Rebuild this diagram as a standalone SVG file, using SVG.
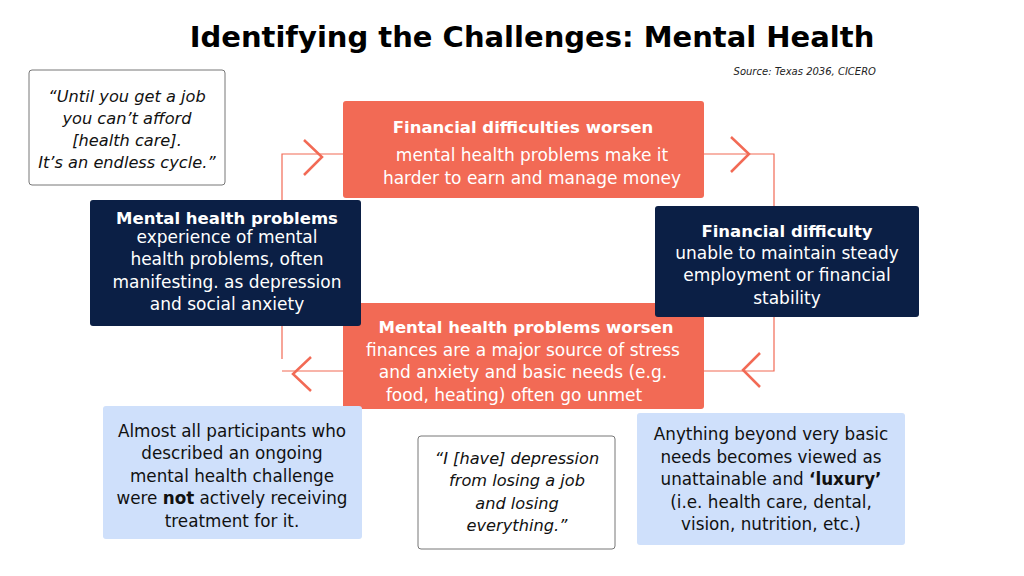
<svg xmlns="http://www.w3.org/2000/svg" width="1024" height="576" viewBox="0 0 1024 576">
<style>
text{font-family:"DejaVu Sans","Open Sans",sans-serif;text-anchor:middle}
.t{font-size:17px;fill:#fff}
.b{font-weight:bold}
.t.b{font-size:16.5px}
.d{font-size:16.8px;fill:#111}
.q{font-size:16.2px;fill:#111;font-style:italic}
.or{fill:#f26a55}
.nv{fill:#0b1f45}
.bl{fill:#cfe0fb}
.qb{fill:#fff;stroke:#777;stroke-width:1}
.ln{fill:none;stroke:#f26a55;stroke-width:1.2}
.ch{fill:none;stroke:#f26a55;stroke-width:2.5}
</style>
<rect width="1024" height="576" fill="#fff"/>
<text x="532" y="47" style="font-size:29px;font-weight:bold;fill:#000;font-family:'DejaVu Sans',sans-serif">Identifying the Challenges: Mental Health</text>
<text x="876" y="75" style="font-size:10px;font-style:italic;fill:#222;text-anchor:end">Source: Texas 2036, CICERO</text>
<g id="connectors">
<path class="ln" d="M282,359 V154 H343 M704,154 H774 V371 H704 M343,371 H282"/>
<path class="ch" d="M304,140 L322,157 L304,175"/>
<path class="ch" d="M731,137 L749,154 L731,172"/>
<path class="ch" d="M760,353 L743,370 L760,387"/>
<path class="ch" d="M311,357 L293,374 L311,391"/>
</g>
<g id="n-fin-worsen"><rect class="or" x="343" y="101" width="361" height="97" rx="3"/>
<text class="t b" x="523" y="133">Financial difficulties worsen</text>
<text class="t" x="532" y="161">mental health problems make it</text>
<text class="t" x="532" y="184">harder to earn and manage money</text></g>
<g id="n-mh-worsen"><rect class="or" x="343" y="303" width="361" height="106" rx="3"/>
<text class="t b" x="526" y="333">Mental health problems worsen</text>
<text class="t" x="523" y="356">finances are a major source of stress</text>
<text class="t" x="523" y="378">and anxiety and basic needs (e.g.</text>
<text class="t" x="514" y="401">food, heating) often go unmet</text></g>
<g id="n-mh"><rect class="nv" x="90" y="200" width="271" height="126" rx="3"/>
<text class="t b" x="227" y="224">Mental health problems</text>
<text class="t" x="227" y="243">experience of mental</text>
<text class="t" x="227" y="265">health problems, often</text>
<text class="t" x="227" y="288">manifesting. as depression</text>
<text class="t" x="227" y="310">and social anxiety</text></g>
<g id="n-fin"><rect class="nv" x="655" y="206" width="264" height="111" rx="3"/>
<text class="t b" x="787" y="237">Financial difficulty</text>
<text class="t" x="787" y="259">unable to maintain steady</text>
<text class="t" x="787" y="281">employment or financial</text>
<text class="t" x="787" y="304">stability</text></g>
<g id="n-note1"><rect class="bl" x="103" y="406" width="259" height="133" rx="3"/>
<text class="d" x="232" y="437">Almost all participants who</text>
<text class="d" x="232" y="459">described an ongoing</text>
<text class="d" x="232" y="482">mental health challenge</text>
<text class="d" x="232" y="504">were <tspan class="b">not</tspan> actively receiving</text>
<text class="d" x="232" y="527">treatment for it.</text></g>
<g id="n-note2"><rect class="bl" x="637" y="413" width="268" height="132" rx="3"/>
<text class="d" x="771" y="440">Anything beyond very basic</text>
<text class="d" x="771" y="463">needs becomes viewed as</text>
<text class="d" x="771" y="485">unattainable and <tspan class="b">‘luxury’</tspan></text>
<text class="d" x="771" y="508">(i.e. health care, dental,</text>
<text class="d" x="771" y="530">vision, nutrition, etc.)</text></g>
<g id="n-quote1"><rect class="qb" x="29" y="70" width="196" height="115" rx="3"/>
<text class="q" x="127" y="102">“Until you get a job</text>
<text class="q" x="127" y="124">you can’t afford</text>
<text class="q" x="127" y="146">[health care].</text>
<text class="q" x="127" y="168">It’s an endless cycle.”</text></g>
<g id="n-quote2"><rect class="qb" x="418" y="436" width="197" height="113" rx="3"/>
<text class="q" x="517" y="464">“I [have] depression</text>
<text class="q" x="517" y="486">from losing a job</text>
<text class="q" x="517" y="509">and losing</text>
<text class="q" x="517" y="531">everything.”</text></g>
</svg>
